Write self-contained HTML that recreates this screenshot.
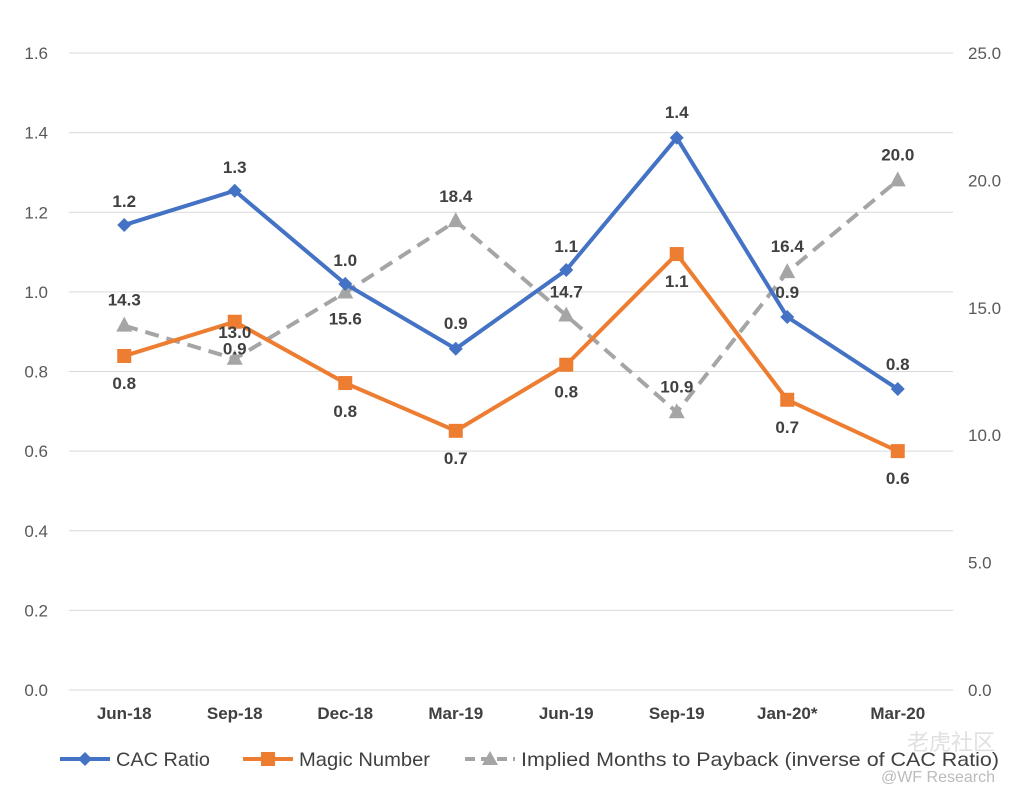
<!DOCTYPE html>
<html><head><meta charset="utf-8"><style>
body{margin:0;background:#fff;}
svg{font-family:"Liberation Sans",Arial,sans-serif;}
</style></head><body>
<svg id="chart" width="1015" height="800"></svg>
<script>
const categories=["Jun-18","Sep-18","Dec-18","Mar-19","Jun-19","Sep-19","Jan-20*","Mar-20"];
const cacRatio=[1.168,1.254,1.02,0.857,1.055,1.387,0.937,0.756];
const magicNumber=[0.839,0.925,0.771,0.651,0.817,1.095,0.729,0.600];
const monthsPayback=[14.3,13.0,15.6,18.4,14.7,10.9,16.4,20.0];
const cacLabels=["1.2","1.3","1.0","0.9","1.1","1.4","0.9","0.8"];
const magicLabels=["0.8","0.9","0.8","0.7","0.8","1.1","0.7","0.6"];
const monthsLabels=["14.3","13.0","15.6","18.4","14.7","10.9","16.4","20.0"];
const leftTicks=["0.0","0.2","0.4","0.6","0.8","1.0","1.2","1.4","1.6"];
const rightTicks=["0.0","5.0","10.0","15.0","20.0","25.0"];

const svg=document.getElementById('chart');
const NS='http://www.w3.org/2000/svg';
const x0=69,x1=953,yB=690,yT=53;
const xs=i=>x0+(x1-x0)/categories.length*(i+0.5);
const yL=v=>yB-(v/1.6)*(yB-yT);
const yR=v=>yB-(v/25)*(yB-yT);
function mk(tag,attrs,parent){const e=document.createElementNS(NS,tag);for(const k in attrs)e.setAttribute(k,attrs[k]);(parent||svg).appendChild(e);return e;}
function txt(x,y,s,attrs){const e=mk('text',Object.assign({x:x,y:y},attrs||{}));e.textContent=s;return e;}

leftTicks.forEach((t,i)=>{const v=parseFloat(t);
 const g=mk('line',{x1:x0,x2:x1,y1:yL(v),y2:yL(v),stroke:'#d9d9d9','stroke-width':1});
 
 
 const l=txt(48,yL(v)+6,t,{'text-anchor':'end','font-size':17,fill:'#595959'});
 
 
});
rightTicks.forEach(t=>{const v=parseFloat(t);
 const l=txt(968,yR(v)+6,t,{'font-size':17,fill:'#595959'});
 
 
});
categories.forEach((c,i)=>{
 const l=txt(xs(i),719,c,{'text-anchor':'middle','font-size':17,'font-weight':'bold',fill:'#404040'});
 
 
});

function series(vals,yf,color,dash,name,marker){
 const p=mk('polyline',{points:vals.map((v,i)=>xs(i)+','+yf(v)).join(' '),fill:'none',stroke:color,'stroke-width':4,'stroke-dasharray':dash||'none'});
 
 
 vals.forEach((v,i)=>{const x=xs(i),y=yf(v);let m;
  if(marker==='d')m=mk('polygon',{points:`${x},${y-7} ${x+7},${y} ${x},${y+7} ${x-7},${y}`,fill:color});
  else if(marker==='s')m=mk('rect',{x:x-7,y:y-7,width:14,height:14,fill:color});
  else m=mk('polygon',{points:`${x},${y-9} ${x+8},${y+6} ${x-8},${y+6}`,fill:color});
  
  
 });
}
series(monthsPayback,yR,'#a5a5a5','14,8','months-payback','t');
series(magicNumber,yL,'#ed7d31',null,'magic-number','s');
series(cacRatio,yL,'#4472c4',null,'cac-ratio','d');

function labels(vals,yf,labs,offs,name){
 vals.forEach((v,i)=>{const l=txt(xs(i),yf(v)+offs[i],labs[i],{'text-anchor':'middle','font-size':17,'font-weight':'bold',fill:'#404040'});
  
  });
}
labels(cacRatio,yL,cacLabels,[-18,-18,-18,-20,-18,-20,-19,-19],'cac-ratio');
labels(magicNumber,yL,magicLabels,[33,33,34,33,33,33,33,33],'magic-number');
labels(monthsPayback,yR,monthsLabels,[-20,-21,32,-19,-18,-20,-20,-20],'months-payback');

const lg=mk('g',{});


[['CAC Ratio','#4472c4',null,'d',60,94],['Magic Number','#ed7d31',null,'s',243,131],['Implied Months to Payback (inverse of CAC Ratio)','#a5a5a5','10,6','t',465,478]].forEach(([n,c,d,m,x,w])=>{
 mk('line',{x1:x,x2:x+50,y1:759,y2:759,stroke:c,'stroke-width':4,'stroke-dasharray':d||'none'},lg);
 const cx=x+25;
 if(m==='d')mk('polygon',{points:`${cx},752 ${cx+7},759 ${cx},766 ${cx-7},759`,fill:c},lg);
 else if(m==='s')mk('rect',{x:cx-7,y:752,width:14,height:14,fill:c},lg);
 else mk('polygon',{points:`${cx},751 ${cx+8},765 ${cx-8},765`,fill:c},lg);
 const t=mk('text',{x:x+56,y:766,'font-size':19.5,fill:'#404040',textLength:w,lengthAdjust:'spacingAndGlyphs'},lg);t.textContent=n;
 
 
});
const w1=txt(995,750,'老虎社区',{'text-anchor':'end','font-size':22,fill:'#e0e0e0','font-family':'"Liberation Sans","Noto Sans CJK SC",sans-serif'});


const w2=txt(995,782,'@WF Research',{'text-anchor':'end','font-size':16,fill:'#bbbbbb'});


</script>
</body></html>
